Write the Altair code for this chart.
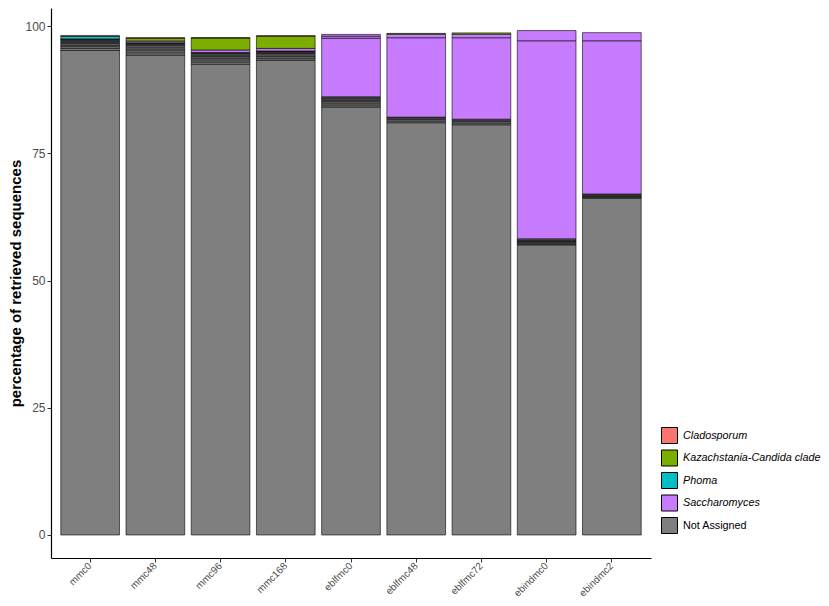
import altair as alt
import pandas as pd

samples = ["mmc0", "mmc48", "mmc96", "mmc168", "eblfmc0", "eblfmc48",
           "eblfmc72", "ebindmc0", "ebindmc2"]
genera = ["Cladosporum", "Kazachstania-Candida clade", "Phoma",
          "Saccharomyces", "Not Assigned"]
colors = ["#F8766D", "#7CAE00", "#00BFC4", "#C77CFF", "#7F7F7F"]
y_ticks = [0, 25, 50, 75, 100]

CL, KC, PH, SA, NA = genera

# segments of each bar, bottom to top (genus, percentage)
mmc0_segments = [(NA, 95.2), (NA, 0.4), (NA, 0.35), (NA, 0.3), (NA, 0.3), (NA, 0.25),
                 (NA, 0.2), (NA, 0.2), (NA, 0.15), (SA, 0.1), (PH, 0.5), (CL, 0.2)]
mmc48_segments = [(NA, 94.3), (NA, 0.45), (NA, 0.4), (NA, 0.35), (NA, 0.35), (NA, 0.3),
                  (NA, 0.25), (NA, 0.2), (NA, 0.1), (SA, 0.35), (KC, 0.55), (CL, 0.1)]
mmc96_segments = [(NA, 92.5), (NA, 0.45), (NA, 0.4), (NA, 0.35), (NA, 0.3), (NA, 0.3),
                  (NA, 0.25), (NA, 0.15), (NA, 0.1), (SA, 0.5), (KC, 2.35), (CL, 0.05)]
mmc168_segments = [(NA, 93.3), (NA, 0.4), (NA, 0.35), (NA, 0.3), (NA, 0.25), (NA, 0.2),
                   (NA, 0.2), (NA, 0.1), (SA, 0.5), (KC, 2.4), (CL, 0.1)]
eblfmc0_segments = [(NA, 84.1), (NA, 0.4), (NA, 0.35), (NA, 0.3), (NA, 0.3), (NA, 0.25),
                    (NA, 0.2), (NA, 0.2), (SA, 11.5), (SA, 0.4), (SA, 0.35)]
eblfmc48_segments = [(NA, 81.0), (NA, 0.35), (NA, 0.3), (NA, 0.25), (NA, 0.2),
                     (SA, 15.6), (SA, 0.7), (KC, 0.15)]
eblfmc72_segments = [(NA, 80.6), (NA, 0.35), (NA, 0.3), (NA, 0.25), (NA, 0.2),
                     (SA, 16.0), (SA, 0.7), (KC, 0.25)]
ebindmc0_segments = [(NA, 57.0), (NA, 0.2), (NA, 0.2), (NA, 0.2), (NA, 0.15), (NA, 0.2),
                     (NA, 0.25), (SA, 38.9), (SA, 2.0)]
ebindmc2_segments = [(NA, 66.2), (NA, 0.2), (NA, 0.2), (NA, 0.2), (NA, 0.2),
                     (SA, 30.1), (SA, 1.6)]

all_segments = [mmc0_segments, mmc48_segments, mmc96_segments, mmc168_segments,
                eblfmc0_segments, eblfmc48_segments, eblfmc72_segments,
                ebindmc0_segments, ebindmc2_segments]

rows = []
for s, segs in zip(samples, all_segments):
    for i, (g, v) in enumerate(segs):
        rows.append({"sample": s, "genus": g, "value": v, "ord": i})
df = pd.DataFrame(rows)

FONT = "Liberation Sans"

chart = alt.Chart(df).mark_bar(stroke="black", strokeWidth=0.6).encode(
    x=alt.X("sample:N", sort=samples,
            scale=alt.Scale(paddingInner=0.1, paddingOuter=0.15),
            axis=alt.Axis(title=None, labelAngle=-45, labelAlign="right",
                          labelBaseline="middle", labelFontSize=10,
                          labelColor="#4D4D4D", tickSize=4, tickColor="#333333",
                          domainColor="black", domainWidth=1.2, labelPadding=2,
                          labelFont=FONT)),
    y=alt.Y("value:Q", stack="zero",
            scale=alt.Scale(domain=[-4.52, 103.54], nice=False, zero=False),
            axis=alt.Axis(title="percentage of retrieved sequences", values=y_ticks,
                          grid=False, labelFontSize=12, labelColor="#4D4D4D",
                          tickSize=4, tickColor="#333333", domainColor="black",
                          domainWidth=1.2, labelPadding=2, titleFontSize=15,
                          titleFontWeight="bold", titleColor="black", titleFont=FONT,
                          labelFont=FONT, titlePadding=1)),
    color=alt.Color("genus:N",
                    scale=alt.Scale(domain=genera, range=colors),
                    legend=alt.Legend(title=None, orient="none", legendX=610, legendY=419,
                                      symbolType="square", symbolSize=256,
                                      symbolStrokeColor="black", symbolStrokeWidth=1,
                                      symbolOpacity=1, labelFontSize=10.8,
                                      labelColor="black", labelFont=FONT,
                                      labelOffset=5, rowPadding=1.5, labelLimit=300,
                                      labelFontStyle={"expr": "datum.label == 'Not Assigned' ? 'normal' : 'italic'"})),
    order=alt.Order("ord:Q", sort="ascending"),
).properties(
    width=600, height=550,
    background="white",
    autosize=alt.AutoSizeParams(type="none"),
    padding={"left": 43, "top": 0, "right": 170, "bottom": 40},
).configure_view(strokeWidth=0, stroke="transparent")

chart.save("out.html", embed_options={"renderer": "svg", "actions": False})
